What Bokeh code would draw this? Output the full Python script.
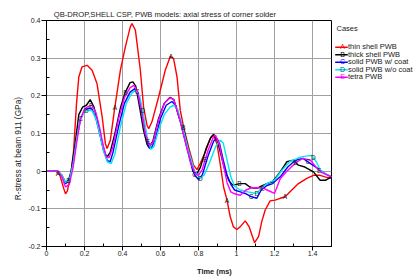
import numpy as np
from bokeh.plotting import figure
from bokeh.layouts import row
from bokeh.models import FixedTicker, LinearAxis, Range1d, ColumnDataSource
from bokeh.core.properties import value
from bokeh.embed import file_html
from bokeh.resources import INLINE

# ---------------- data ----------------
series_names = ["thin shell PWB", "thick shell PWB", "solid PWB w/ coat", "solid PWB w/o coat", "tetra PWB"]
series_letters = ["A", "B", "C", "D", "E"]

red_t = [0, 0.05, 0.07, 0.09, 0.10, 0.11, 0.13, 0.143, 0.158, 0.17, 0.187, 0.214, 0.24, 0.266, 0.293, 0.31, 0.319, 0.336, 0.357, 0.389,
         0.415, 0.441, 0.45, 0.468, 0.494, 0.511, 0.529, 0.538, 0.555, 0.59, 0.625, 0.652, 0.669, 0.687, 0.704, 0.722, 0.748, 0.774, 0.792, 0.809,
         0.836, 0.862, 0.879, 0.897, 0.914, 0.932, 0.95, 0.967, 0.984, 1.002, 1.019, 1.046, 1.067, 1.095, 1.116, 1.133, 1.151, 1.177, 1.203, 1.23,
         1.256, 1.291, 1.326, 1.37, 1.405, 1.44, 1.466, 1.5]
red_v = [0, 0, -0.01, -0.045, -0.06, -0.052, 0.0, 0.056, 0.18, 0.25, 0.277, 0.281, 0.268, 0.232, 0.144, 0.073, 0.06, 0.082, 0.16, 0.268,
         0.33, 0.383, 0.392, 0.374, 0.268, 0.17, 0.122, 0.113, 0.131, 0.197, 0.268, 0.305, 0.299, 0.25, 0.162, 0.116, 0.064, 0.016, 0.004, 0.02,
         0.051, 0.087, 0.095, 0.073, 0.02, -0.042, -0.077, -0.121, -0.148, -0.155, -0.148, -0.132, -0.148, -0.19, -0.174, -0.134, -0.103, -0.079, -0.077, -0.072,
         -0.068, -0.05, -0.033, -0.019, -0.011, -0.011, -0.015, -0.019]

blk_t = [0, 0.06, 0.08, 0.10, 0.115, 0.13, 0.15, 0.17, 0.19, 0.21, 0.23, 0.25, 0.27, 0.29, 0.31, 0.32, 0.335, 0.36, 0.39, 0.415,
         0.44, 0.455, 0.47, 0.49, 0.51, 0.53, 0.54, 0.56, 0.59, 0.62, 0.65, 0.67, 0.70, 0.72, 0.75, 0.77, 0.79, 0.81, 0.84, 0.865,
         0.88, 0.90, 0.92, 0.94, 0.96, 0.98, 1.0, 1.02, 1.046, 1.07, 1.09, 1.11, 1.13, 1.16, 1.19, 1.23, 1.265, 1.30, 1.326, 1.36,
         1.405, 1.44, 1.47, 1.5]
blk_v = [0, 0, -0.01, -0.03, -0.025, 0.0, 0.07, 0.15, 0.17, 0.175, 0.19, 0.17, 0.13, 0.08, 0.045, 0.038, 0.05, 0.1, 0.17, 0.21,
         0.235, 0.237, 0.225, 0.17, 0.11, 0.07, 0.063, 0.08, 0.14, 0.18, 0.196, 0.19, 0.14, 0.116, 0.05, 0.0, -0.008, 0.01, 0.06, 0.09,
         0.098, 0.08, 0.04, 0.0, -0.025, -0.037, -0.035, -0.033, -0.033, -0.042, -0.045, -0.045, -0.04, -0.033, -0.028, -0.002, 0.025, 0.029, 0.016, 0.011,
         -0.002, -0.024, -0.024, -0.015]

blu_t = [0, 0.06, 0.08, 0.10, 0.12, 0.14, 0.16, 0.18, 0.20, 0.22, 0.24, 0.26, 0.28, 0.30, 0.32, 0.335, 0.35, 0.38, 0.41, 0.44,
         0.465, 0.48, 0.50, 0.52, 0.54, 0.55, 0.57, 0.60, 0.63, 0.66, 0.68, 0.70, 0.73, 0.76, 0.78, 0.80, 0.82, 0.85, 0.88, 0.897,
         0.91, 0.93, 0.95, 0.97, 0.99, 1.02, 1.05, 1.08, 1.107, 1.13, 1.16, 1.19, 1.23, 1.27, 1.31, 1.35, 1.39, 1.44, 1.47, 1.5]
blu_v = [0, 0, -0.012, -0.033, -0.025, 0.02, 0.09, 0.14, 0.16, 0.167, 0.165, 0.14, 0.1, 0.055, 0.028, 0.025, 0.05, 0.12, 0.18, 0.21,
         0.219, 0.21, 0.16, 0.1, 0.062, 0.06, 0.08, 0.14, 0.175, 0.185, 0.175, 0.14, 0.08, 0.02, -0.01, -0.022, -0.01, 0.04, 0.08, 0.087,
         0.075, 0.03, -0.01, -0.035, -0.05, -0.055, -0.06, -0.068, -0.072, -0.05, -0.038, -0.033, -0.015, 0.011, 0.029, 0.034, 0.02, 0.003, -0.008, -0.015]

cyn_t = [0, 0.06, 0.08, 0.10, 0.12, 0.14, 0.16, 0.18, 0.20, 0.22, 0.24, 0.26, 0.28, 0.30, 0.32, 0.34, 0.36, 0.39, 0.42, 0.45,
         0.47, 0.49, 0.51, 0.53, 0.55, 0.565, 0.59, 0.62, 0.65, 0.67, 0.69, 0.72, 0.75, 0.78, 0.81, 0.83, 0.86, 0.89, 0.915, 0.93,
         0.95, 0.97, 0.99, 1.02, 1.06, 1.09, 1.107, 1.13, 1.16, 1.20, 1.24, 1.28, 1.34, 1.396, 1.42, 1.44, 1.47, 1.5]
cyn_v = [0, 0, -0.01, -0.03, -0.025, 0.02, 0.09, 0.14, 0.158, 0.162, 0.16, 0.14, 0.1, 0.055, 0.025, 0.02, 0.045, 0.12, 0.18, 0.208,
         0.215, 0.2, 0.15, 0.09, 0.058, 0.065, 0.11, 0.15, 0.17, 0.175, 0.165, 0.11, 0.05, 0.0, -0.019, -0.01, 0.025, 0.065, 0.082, 0.075,
         0.03, -0.015, -0.04, -0.05, -0.055, -0.058, -0.059, -0.045, -0.033, -0.024, 0.003, 0.025, 0.038, 0.042, 0.025, 0.003, -0.008, -0.015]

mag_t = [0, 0.06, 0.08, 0.10, 0.12, 0.14, 0.16, 0.18, 0.20, 0.22, 0.24, 0.26, 0.28, 0.30, 0.315, 0.33, 0.35, 0.38, 0.41, 0.44,
         0.46, 0.48, 0.50, 0.52, 0.54, 0.56, 0.59, 0.62, 0.65, 0.67, 0.70, 0.73, 0.76, 0.785, 0.80, 0.82, 0.85, 0.88, 0.89, 0.91,
         0.93, 0.95, 0.97, 0.99, 1.02, 1.05, 1.08, 1.11, 1.14, 1.17, 1.20, 1.23, 1.26, 1.29, 1.32, 1.35, 1.39, 1.42, 1.45, 1.5]
mag_v = [0, 0, -0.015, -0.042, -0.035, 0.01, 0.08, 0.14, 0.165, 0.172, 0.175, 0.155, 0.115, 0.065, 0.038, 0.036, 0.065, 0.14, 0.195, 0.222,
         0.228, 0.21, 0.16, 0.1, 0.07, 0.075, 0.135, 0.18, 0.195, 0.19, 0.14, 0.08, 0.02, -0.008, -0.011, 0.005, 0.055, 0.093, 0.095, 0.07,
         0.02, -0.03, -0.055, -0.06, -0.064, -0.05, -0.044, -0.044, -0.045, -0.052, -0.059, -0.02, -0.003, 0.012, 0.025, 0.034, 0.029, 0.01, -0.004, -0.015]

# times at which the case letters are written on each curve
mark_A = [0.06, 0.36, 0.655, 0.95, 1.255]
mark_B = [0.115, 0.415, 0.72, 1.015, 1.31]
mark_C = [0.18, 0.477, 0.78, 1.077, 1.375]
mark_D = [0.21, 0.506, 0.81, 1.107, 1.405]
mark_E = [0.235, 0.534, 0.835, 1.137, 1.435]

x_ticks = [0, 0.2, 0.4, 0.6, 0.8, 1.0, 1.2, 1.4]
x_tick_labels = ["0", "0.2", "0.4", "0.6", "0.8", "1", "1.2", "1.4"]
x_minor = [0.1, 0.3, 0.5, 0.7, 0.9, 1.1, 1.3, 1.5]
y_ticks = [-0.2, -0.1, 0, 0.1, 0.2, 0.3, 0.4]
y_tick_labels = ["-0.2", "-0.1", "0", "0.1", "0.2", "0.3", "0.4"]
y_minor = [-0.15, -0.05, 0.05, 0.15, 0.25, 0.35]

title_text = "QB-DROP,SHELL CSP, PWB models: axial stress of corner solder"
x_label = "Time (ms)"
y_label = "R-stress at beam 911 (GPa)"
legend_title = "Cases"

# ---------------- style ----------------
FONT = "Liberation Sans"
TXT = "#1a1a1a"
colors = ["#ff0000", "#000000", "#0000ff", "#00e5ee", "#ff00ff"]
legend_letter_colors = ["#ff0000", "#000000", "#0000ff", "#006080", "#ff00ff"]
series = [(red_t, red_v, mark_A), (blk_t, blk_v, mark_B), (blu_t, blu_v, mark_C),
          (cyn_t, cyn_v, mark_D), (mag_t, mag_v, mark_E)]

# anchor positions (in axis units) of the centred title / axis-label texts
TITLE_AT = 0.624
XLABEL_AT = 0.884
YLABEL_AT = 0.060

FIG_H = 283          # a little taller than the window; the bottom few px are cut off
MAIN_W = 332
TOP, BOTTOM = 20, 37
p = figure(width=MAIN_W, height=FIG_H, output_backend="svg", toolbar_location=None,
           x_range=Range1d(0, 1.5), y_range=Range1d(-0.2, 0.4),
           min_border_left=46, min_border_right=1, min_border_top=TOP, min_border_bottom=BOTTOM)
p.background_fill_color = "white"
p.border_fill_color = "white"
p.outline_line_color = "black"
p.outline_line_width = 1

xa = p.xaxis[0]
ya = p.yaxis[0]
for ax, ticks, minor, labels in [(xa, x_ticks, x_minor, x_tick_labels),
                                  (ya, y_ticks, y_minor, y_tick_labels)]:
    ax.ticker = FixedTicker(ticks=ticks, minor_ticks=minor)
    ax.major_label_overrides = {t: l for t, l in zip(ticks, labels)}
    ax.major_label_text_font = FONT
    ax.major_label_text_font_size = "7px"
    ax.major_label_text_color = TXT
    ax.axis_line_color = "black"
    ax.major_tick_line_color = "black"
    ax.minor_tick_line_color = "black"
    ax.major_tick_in = 0
    ax.minor_tick_in = 3
    ax.minor_tick_out = 0
ya.major_tick_out = 5
ya.major_label_standoff = 1
xa.major_tick_out = 4
xa.major_label_standoff = 0

p.xgrid.ticker = FixedTicker(ticks=x_ticks)
p.ygrid.ticker = FixedTicker(ticks=y_ticks)
p.xgrid.grid_line_color = "#a0a0a0"
p.ygrid.grid_line_color = "#a0a0a0"


def text_axis(anchor, text, size, standoff, style="normal", orientation="horizontal"):
    a = LinearAxis(ticker=FixedTicker(ticks=[anchor], minor_ticks=[]),
                   major_label_overrides={anchor: text})
    a.axis_line_color = None
    a.major_tick_line_color = None
    a.minor_tick_line_color = None
    a.major_tick_out = 0
    a.major_tick_in = 0
    a.minor_tick_out = 0
    a.minor_tick_in = 0
    a.major_label_standoff = standoff
    a.major_label_text_font = FONT
    a.major_label_text_font_size = size
    a.major_label_text_font_style = style
    a.major_label_text_color = TXT
    a.major_label_orientation = orientation
    return a


p.add_layout(text_axis(TITLE_AT, title_text, "7.6px", 2), "above")
p.add_layout(text_axis(XLABEL_AT, x_label, "7.4px", 8, style="bold"), "below")
p.add_layout(text_axis(YLABEL_AT, y_label, "8.3px", 2, orientation="vertical"), "left")

for (t, v, marks), col in zip(series, colors):
    p.line(t, v, line_color=col, line_width=1.4)
for (t, v, marks), letter in zip(series, series_letters):
    my = np.interp(marks, t, v)
    src = ColumnDataSource(dict(x=marks, y=list(my), txt=[letter] * len(marks)))
    p.text(x="x", y="y", text="txt", source=src, text_font=value(FONT), text_font_size="6.5px",
           text_color="#202020", text_align="center", text_baseline="middle")

# ---------------- legend panel ----------------
# its frame is aligned with the main frame (rows align frames), so the y range
# is given in page pixels from the top edge: TOP .. FIG_H - BOTTOM
LW = 415 - MAIN_W
lg = figure(width=LW, height=FIG_H, output_backend="svg", toolbar_location=None,
            x_range=Range1d(0, LW), y_range=Range1d(FIG_H - BOTTOM, TOP),
            min_border_left=0, min_border_right=0, min_border_top=TOP, min_border_bottom=BOTTOM,
            x_axis_location=None, y_axis_location=None)
try:
    lg.title = None
except Exception:
    lg.title.visible = False
lg.grid.visible = False
lg.outline_line_color = None
lg.background_fill_color = "white"
lg.border_fill_color = "white"

lg.text(x=[4], y=[28.3], text=[legend_title], text_font=value(FONT), text_font_size="7.5px",
        text_color=TXT, text_baseline="alphabetic", text_align="left")
n = len(series_names)
base = [46 + 7.5 * i for i in range(n)]
lg.segment(x0=[2.7] * n, y0=[b + 0.8 for b in base], x1=[15.3] * n, y1=[b + 0.8 for b in base],
           line_color=colors, line_width=1.4)
lg.text(x=[10] * n, y=base, text=series_letters, text_font=value(FONT), text_font_size="7px",
        text_color=legend_letter_colors, text_baseline="alphabetic", text_align="center")
lg.text(x=[15.5] * n, y=base, text=series_names, text_font=value(FONT), text_font_size="7.5px",
        text_color=TXT, text_baseline="alphabetic", text_align="left")

layout = row(p, lg, spacing=0)
open("out.html", "w").write(file_html(layout, INLINE))
